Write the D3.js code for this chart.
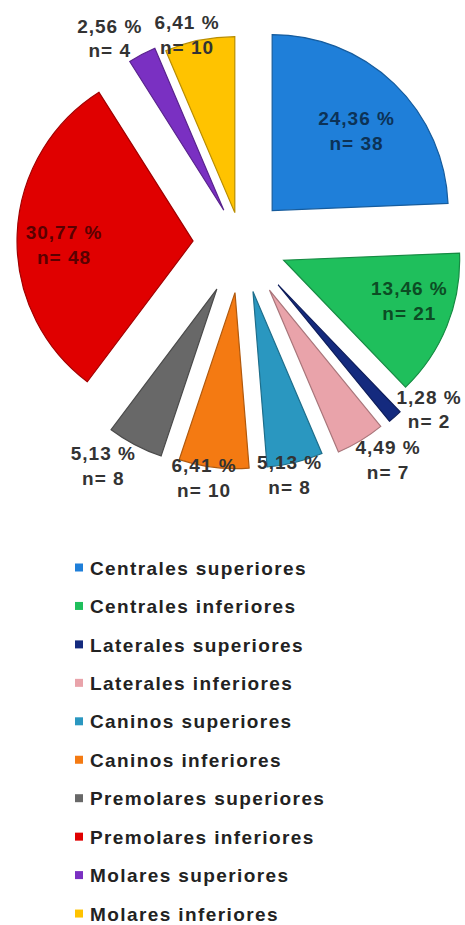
<!DOCTYPE html>
<html lang="es">
<head>
<meta charset="UTF-8">
<title>Distribución por grupo dentario</title>
<script src="https://d3js.org/d3.v7.min.js"></script>
<style>
  body { margin: 0; background: #fff; }
  text { font-family: "Liberation Sans", Arial, sans-serif; font-weight: bold; }
</style>
</head>
<body>
<svg id="main" width="465" height="925"></svg>
<script>
// data
const categories = ["Centrales superiores", "Centrales inferiores", "Laterales superiores",
  "Laterales inferiores", "Caninos superiores", "Caninos inferiores",
  "Premolares superiores", "Premolares inferiores", "Molares superiores", "Molares inferiores"];
const counts = [38, 21, 2, 7, 8, 10, 8, 48, 4, 10];

// look
const colors = ["#1f7fd9", "#1fbf5c", "#142a7e", "#e9a3aa", "#2a97c0",
  "#f47a12", "#686868", "#e00000", "#7a30c2", "#ffc300"];
const explode = [45, 46, 56, 55, 50, 50, 52, 48, 37, 31];
// label radius and angle nudge (degrees) for each slice
const labelPlace = [[161, 2], [178, -3], [251, -7], [262, -3], [237, 2],
  [238, 2], [262, 4], [177, -3], [243, -5], [215, -3]];
const inside = [true, true, false, false, false, false, false, true, false, false];

const R = 176, cx = 241, cy = 243;
const total = d3.sum(counts);
const svg = d3.select("#main");

const pie = d3.pie().sort(null).value(d => d.n);
const arcs = pie(categories.map((c, i) => ({ name: c, n: counts[i], i: i })));
const arc = d3.arc().innerRadius(0).outerRadius(R);

const g = svg.append("g").attr("transform", `translate(${cx},${cy})`);

function dir(a) { return [Math.sin(a), -Math.cos(a)]; }

g.selectAll("path.slice")
  .data(arcs)
  .join("path")
  .attr("class", "slice")
  .attr("d", arc)
  .attr("fill", d => colors[d.index])
  .attr("stroke", d => d3.color(colors[d.index]).darker(0.9))
  .attr("stroke-width", 1.2)
  .attr("transform", d => {
    const m = (d.startAngle + d.endAngle) / 2;
    const [ux, uy] = dir(m);
    return `translate(${ux * explode[d.index]},${uy * explode[d.index]})`;
  });

const fmt = v => (v / total * 100).toFixed(2).replace(".", ",") + " %";

const lab = g.selectAll("g.lab")
  .data(arcs)
  .join("g")
  .attr("class", "lab")
  .attr("transform", d => {
    const [r, da] = labelPlace[d.index];
    const m = (d.startAngle + d.endAngle) / 2 + da * Math.PI / 180;
    const [ux, uy] = dir(m);
    return `translate(${ux * r},${uy * r})`;
  });

const labFill = d => inside[d.index] ? d3.color(colors[d.index]).darker(2.6) : "#333";

lab.append("text")
  .attr("text-anchor", "middle")
  .attr("dy", "-0.3em")
  .attr("font-size", 19)
  .attr("letter-spacing", 1)
  .attr("fill", labFill)
  .text(d => fmt(d.data.n));

lab.append("text")
  .attr("text-anchor", "middle")
  .attr("dy", "1.0em")
  .attr("font-size", 19)
  .attr("letter-spacing", 1)
  .attr("fill", labFill)
  .text(d => "n= " + d.data.n);

// legend
const legend = svg.append("g").attr("transform", "translate(75,568)");
const row = d3.scaleBand().domain(categories).range([0, 384.5]).paddingInner(0);

const item = legend.selectAll("g.item")
  .data(categories)
  .join("g")
  .attr("class", "item")
  .attr("transform", d => `translate(0,${row(d)})`);

item.append("rect")
  .attr("x", 0).attr("y", -4.5)
  .attr("width", 8).attr("height", 8)
  .attr("fill", (d, i) => colors[i]);

item.append("text")
  .attr("x", 15)
  .attr("dy", "0.35em")
  .attr("font-size", 19)
  .attr("letter-spacing", 1.4)
  .attr("fill", "#222")
  .text(d => d);
</script>
</body>
</html>
